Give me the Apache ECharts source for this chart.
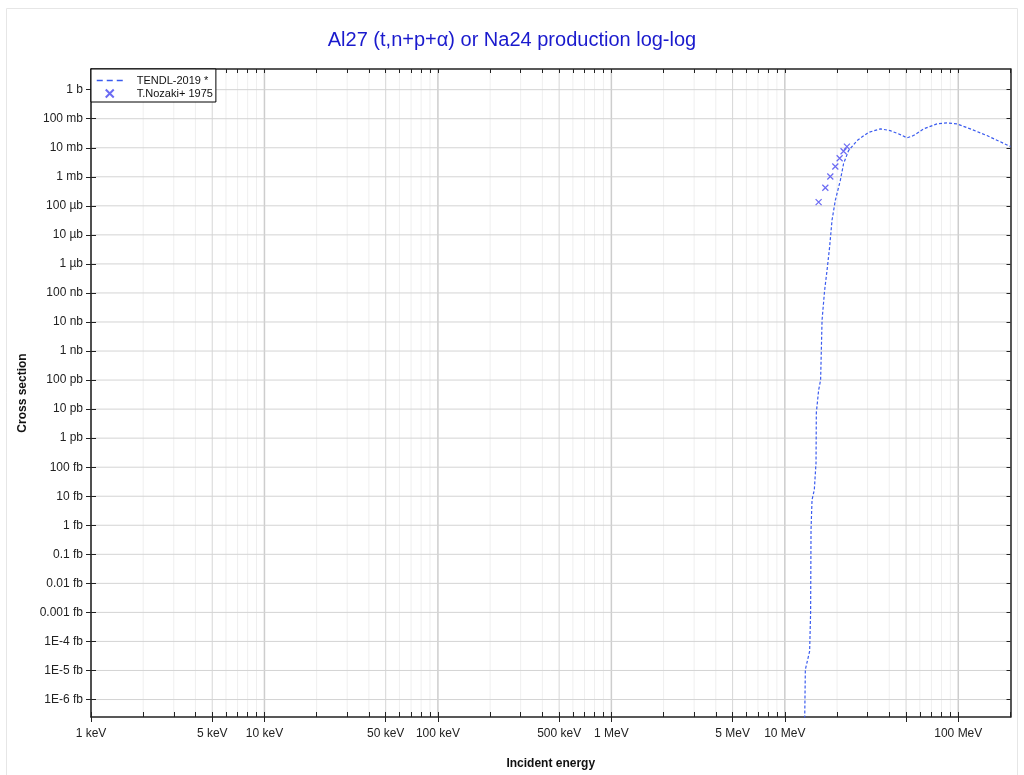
<!DOCTYPE html>
<html><head><meta charset="utf-8">
<script src="https://cdn.jsdelivr.net/npm/echarts@6/dist/echarts.min.js"></script>
<style>html,body{margin:0;padding:0;background:#fff}#c{width:1024px;height:775px}</style>
</head><body><div id="c"></div>
<script>
// TENDL-2019 evaluated cross section (energy in MeV, cross section in barns)
const tendlEnergy = [13.0, 13.13, 13.9, 14.08, 14.16, 14.35, 14.79, 15.13, 15.19, 15.66, 16.08, 16.39, 16.96, 17.51, 18.12, 18.71, 19.55, 20.42, 20.89, 21.8, 23.3, 26.1, 30.4, 35.5, 40.5, 46.3, 50.6, 55.2, 63.1, 75.4, 86.1, 98.3, 117.3, 146.3, 200];
const tendlXs = [1e-22, 1.07e-20, 4.6e-20, 9.6e-19, 7e-16, 7.5e-15, 1.66e-14, 1.4e-13, 7.4e-12, 4.5e-11, 1e-10, 1.15e-8, 1.23e-7, 6e-7, 3.8e-6, 3.2e-5, 1.55e-4, 4.4e-4, 7.5e-4, 2.8e-3, 8e-3, 0.0177, 0.034, 0.0446, 0.039, 0.0284, 0.0219, 0.0263, 0.0446, 0.0663, 0.0717, 0.0663, 0.0446, 0.0263, 0.011];
// T.Nozaki+ 1975 experimental points
const nozakiEnergy = [15.66, 17.12, 18.29, 19.55, 20.7, 21.8, 22.8];
const nozakiXs = [1.34e-4, 4.2e-4, 1.02e-3, 2.26e-3, 4.36e-3, 7.6e-3, 0.011];

// tick labels
const xLabelValues = [0.001, 0.005, 0.01, 0.05, 0.1, 0.5, 1, 5, 10, 100];
const xLabelTexts = ['1 keV', '5 keV', '10 keV', '50 keV', '100 keV', '500 keV', '1 MeV', '5 MeV', '10 MeV', '100 MeV'];
const yLabelValues = [1, 1e-1, 1e-2, 1e-3, 1e-4, 1e-5, 1e-6, 1e-7, 1e-8, 1e-9, 1e-10, 1e-11, 1e-12, 1e-13, 1e-14, 1e-15, 1e-16, 1e-17, 1e-18, 1e-19, 1e-20, 1e-21];
const yLabelTexts = ['1 b', '100 mb', '10 mb', '1 mb', '100 µb', '10 µb', '1 µb', '100 nb', '10 nb', '1 nb', '100 pb', '10 pb', '1 pb', '100 fb', '10 fb', '1 fb', '0.1 fb', '0.01 fb', '0.001 fb', '1E-4 fb', '1E-5 fb', '1E-6 fb'];

const X_MIN = 0.001, X_MAX = 200;
const Y_MIN = 2.5e-22, Y_MAX = 5.15;

const decades = [0.001, 0.01, 0.1, 1, 10, 100];
const xAllTicks = [], xMajorTicks = [], xMinorOnly = [], xDecades = [], xFives = [];
decades.forEach(d => {
  for (let k = 1; k <= 9; k++) {
    const v = +(d * k).toPrecision(6);
    if (v > X_MAX) continue;
    xAllTicks.push(v);
    if (k === 1 || k === 5) xMajorTicks.push(v); else xMinorOnly.push(v);
    if (k === 1) xDecades.push(v);
    if (k === 5) xFives.push(v);
  }
});

function lookup(values, texts, v) {
  const lv = Math.log10(v);
  for (let i = 0; i < values.length; i++) {
    if (Math.abs(Math.log10(values[i]) - lv) < 1e-6) return texts[i];
  }
  return '';
}

const font = 'Liberation Sans, Arial, sans-serif';
const axisColor = '#222';

// grid lines drawn as plain line series through the axes' scales
const gridSeries = [];
function vLine(v, color, width) {
  gridSeries.push({ type: 'line', xAxisIndex: 0, yAxisIndex: 0, z: 1, silent: true, symbol: 'none',
    data: [[v, Y_MIN], [v, Y_MAX]], lineStyle: { color: color, width: width, type: 'solid' },
    emphasis: { disabled: true }, tooltip: { show: false } });
}
function hLine(v, color, width) {
  gridSeries.push({ type: 'line', xAxisIndex: 0, yAxisIndex: 0, z: 1, silent: true, symbol: 'none',
    data: [[X_MIN, v], [X_MAX, v]], lineStyle: { color: color, width: width, type: 'solid' },
    emphasis: { disabled: true }, tooltip: { show: false } });
}
xMinorOnly.forEach(v => vLine(v, '#efefef', 1));
xFives.forEach(v => vLine(v, '#d6d6d6', 1));
xDecades.forEach(v => vLine(v, '#cdcdcd', 1.5));
yLabelValues.forEach(v => hLine(v, '#d4d4d4', 1));

const chart = echarts.init(document.getElementById('c'), null, { renderer: 'canvas' });
chart.setOption({
  animation: false,
  backgroundColor: '#fff',
  textStyle: { fontFamily: font },
  graphic: [{
    type: 'rect', z: -10, silent: true,
    shape: { x: 6.5, y: 8.5, width: 1011, height: 800 },
    style: { fill: 'none', stroke: '#e6e6e6', lineWidth: 1 }
  }],
  title: {
    text: 'Al27 (t,n+p+α) or Na24 production log-log',
    left: 'center', top: 25,
    textStyle: { fontSize: 20, fontWeight: 'normal', color: '#1a1acd', fontFamily: font }
  },
  legend: {
    left: 91, top: 69, orient: 'vertical', z: 10,
    backgroundColor: '#fff', borderColor: '#000', borderWidth: 1,
    padding: [6, 3, 3, 5], itemWidth: 26, itemHeight: 8, itemGap: 2,
    formatter: '{a|{name}}',
    textStyle: { fontSize: 11, color: '#111', fontFamily: font, rich: { a: { fontSize: 11, height: 12, color: '#111', fontFamily: font, padding: [0, 0, 0, 9] } } },
    data: [
      { name: 'TENDL-2019 *', lineStyle: { type: [6, 4], width: 1.5, color: '#3a5bef' } },
      { name: 'T.Nozaki+ 1975' }
    ]
  },
  grid: { left: 91, right: 13.5, top: 69, bottom: 57.5, containLabel: false },
  xAxis: [
    {
      type: 'log', logBase: 10, min: X_MIN, max: X_MAX, position: 'bottom', z: 5,
      axisLine: { show: true, onZero: false, lineStyle: { color: axisColor, width: 1.5 } },
      axisTick: { show: true, inside: false, length: 5, customValues: xMajorTicks, lineStyle: { color: axisColor } },
      axisLabel: { show: true, customValues: xLabelValues, margin: 11, fontSize: 12, color: '#222', fontFamily: font,
        formatter: v => lookup(xLabelValues, xLabelTexts, v) },
      splitLine: { show: false }, minorTick: { show: false },
      name: 'Incident energy', nameLocation: 'middle', nameGap: 41,
      nameTextStyle: { fontWeight: 'bold', fontSize: 12, color: '#111', fontFamily: font }
    },
    {
      type: 'log', logBase: 10, min: X_MIN, max: X_MAX, position: 'bottom', z: 5,
      axisLine: { show: false, onZero: false },
      axisTick: { show: true, inside: true, length: 5, customValues: xAllTicks, lineStyle: { color: axisColor } },
      axisLabel: { show: false }, splitLine: { show: false }
    },
    {
      type: 'log', logBase: 10, min: X_MIN, max: X_MAX, position: 'top', z: 5,
      axisLine: { show: true, onZero: false, lineStyle: { color: axisColor, width: 1.5 } },
      axisTick: { show: true, inside: true, length: 4, customValues: xAllTicks, lineStyle: { color: axisColor } },
      axisLabel: { show: false }, splitLine: { show: false }
    }
  ],
  yAxis: [
    {
      type: 'log', logBase: 10, min: Y_MIN, max: Y_MAX, position: 'left', z: 5,
      axisLine: { show: true, onZero: false, lineStyle: { color: axisColor, width: 1.5 } },
      axisTick: { show: true, inside: false, length: 5, customValues: yLabelValues, lineStyle: { color: axisColor } },
      axisLabel: { show: true, customValues: yLabelValues, margin: 8, fontSize: 12, color: '#222', fontFamily: font,
        formatter: v => lookup(yLabelValues, yLabelTexts, v) },
      splitLine: { show: false },
      name: 'Cross section', nameLocation: 'middle', nameGap: 58, nameRotate: 90,
      nameTextStyle: { fontWeight: 'bold', fontSize: 12, color: '#111', fontFamily: font }
    },
    {
      type: 'log', logBase: 10, min: Y_MIN, max: Y_MAX, position: 'left', z: 5,
      axisLine: { show: false, onZero: false },
      axisTick: { show: true, inside: true, length: 5, customValues: yLabelValues, lineStyle: { color: axisColor } },
      axisLabel: { show: false }, splitLine: { show: false }
    },
    {
      type: 'log', logBase: 10, min: Y_MIN, max: Y_MAX, position: 'right', z: 5,
      axisLine: { show: true, onZero: false, lineStyle: { color: axisColor, width: 1.5 } },
      axisTick: { show: true, inside: true, length: 4, customValues: yLabelValues, lineStyle: { color: axisColor } },
      axisLabel: { show: false }, splitLine: { show: false }
    }
  ],
  series: gridSeries.concat([
    {
      name: 'TENDL-2019 *', type: 'line', xAxisIndex: 0, yAxisIndex: 0, z: 5,
      data: tendlEnergy.map((e, i) => [e, tendlXs[i]]),
      showSymbol: false, symbol: 'circle', clip: true,
      itemStyle: { color: 'rgba(0,0,0,0)' },
      lineStyle: { color: '#3a5bef', width: 1.2, type: [3, 2] }
    },
    {
      name: 'T.Nozaki+ 1975', type: 'scatter', xAxisIndex: 0, yAxisIndex: 0, z: 6,
      data: nozakiEnergy.map((e, i) => [e, nozakiXs[i]]),
      symbol: 'path://M0,0L10,10M10,0L0,10', symbolSize: 6,
      itemStyle: { color: 'rgba(0,0,0,0)', borderColor: '#4646f0', borderWidth: 1.2 }
    }
  ])
});
</script>
</body></html>
